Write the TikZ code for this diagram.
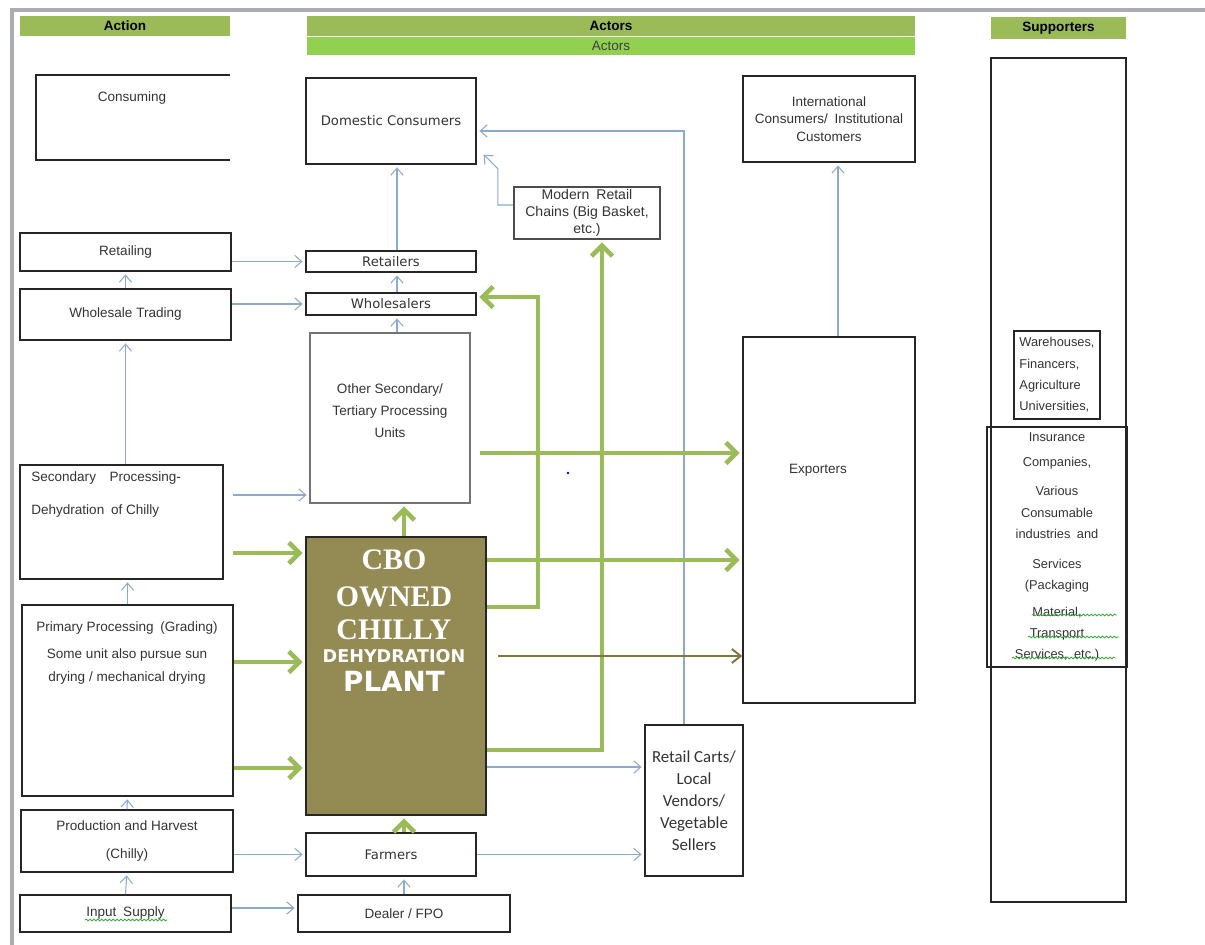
\documentclass[tikz,border=0pt]{standalone}
\usepackage{fontspec}
\setmainfont{Liberation Sans}
\newfontfamily\verdfont{DejaVu Sans}
\newfontfamily\calfont{Carlito}
\newfontfamily\serifplant{Liberation Serif}
\usetikzlibrary{arrows.meta,calc,decorations.pathmorphing}

\definecolor{hdrgreen}{RGB}{155,187,89}
\definecolor{hdrlime}{RGB}{146,208,80}
\definecolor{plantolive}{RGB}{148,138,84}
\definecolor{oliveline}{RGB}{128,118,62}
\definecolor{flowblue}{RGB}{140,170,205}
\definecolor{edgegray}{RGB}{170,174,180}
\definecolor{spellgreen}{RGB}{60,170,60}

\newcommand{\lbl}{\fontsize{7.7}{9.5}\selectfont}
\newcommand{\midlbl}{\verdfont\fontsize{7.5}{9.5}\selectfont}

\begin{document}
\begin{tikzpicture}[x=0.02cm,y=-0.02cm,
	wh/.style 2 args={minimum width=#1*0.02cm,minimum height=#2*0.02cm},
	box/.style={draw=black!85,line width=0.9pt,inner sep=0pt,align=center,text=black!80,font=\lbl},
	hdr/.style={fill=hdrgreen,inner sep=0pt,font=\lbl\bfseries},
	txt/.style={inner sep=0pt,align=center,text=black!80,font=\lbl},
	flow/.style={draw=flowblue,line width=0.6pt,shorten >=1.5pt,-{Straight Barb[length=4pt,width=7pt]}},
	gflow/.style={draw=hdrgreen,line width=2.6pt,shorten >=1.5pt,-{Straight Barb[length=6pt,width=12pt]}},
	oflow/.style={draw=oliveline,line width=1.1pt,-{Straight Barb[length=5pt,width=8pt]}},
	spell/.style={draw=spellgreen,line width=0.5pt,decorate,decoration={snake,amplitude=0.5pt,segment length=2.2pt}},
	bigword/.style={inner sep=0pt,text=white,font=\serifplant\bfseries\fontsize{17}{19}\selectfont}]
\useasboundingbox (0,0) rectangle (1205,945);

% page edge
\draw[edgegray,line width=2.5pt] (12,945) -- (12,10) -- (1205,10);

% headers
\node[hdr,wh={210}{20}] (hdaction) at (125,26) {Action};
\node[hdr,wh={608}{20}] (hdactors) at (611,26) {Actors};
\node[hdr,fill=hdrlime,font=\lbl,text=black!75,wh={608}{18}] (hdactors2) at (611,46) {Actors};
\node[hdr,wh={135}{22}] (hdsupport) at (1058.5,28) {Supporters};

% action column
\draw[draw=black!85,line width=0.9pt] (230,75) -- (36,75) -- (36,160) -- (230,160);
\node[txt] (consuming) at (132,98) {Consuming};
\node[box,wh={211}{38}] (retailing) at (125.5,252) {Retailing};
\node[box,wh={211}{51}] (wholesale) at (125.5,314.5) {Wholesale Trading};
\node[box,wh={203}{114}] (secproc) at (121.5,522) {};
\node[txt,align=left,anchor=north west,font=\fontsize{7.7}{18.8}\selectfont] (secproc-txt) at (31,471)
	{Secondary\quad Processing-\\Dehydration\enspace of Chilly};
\node[box,wh={211}{191}] (primary) at (127.5,700.5) {};
\node[txt,anchor=north,font=\fontsize{7.7}{13}\selectfont] (primary-txt) at (127,621)
	{Primary Processing\enspace (Grading)\\[2.8pt]Some unit also pursue sun\\drying / mechanical drying};
\node[box,font=\fontsize{7.7}{16}\selectfont,wh={212}{62}] (production) at (127,841) {Production and Harvest\\(Chilly)};
\node[box,wh={211}{37}] (input) at (125.5,913.5) {Input\enspace Supply};
\draw[spell] (85,920) -- (167,920);

% actors column
\node[box,font=\midlbl,wh={170}{86}] (domestic) at (391,121) {Domestic Consumers};
\node[box,font=\midlbl,wh={170}{21}] (retailers) at (391,261.5) {Retailers};
\node[box,font=\midlbl,wh={170}{22}] (wholesalers) at (391,304) {Wholesalers};
\node[box,draw=black!55,wh={160}{170}] (other) at (390,418) {};
\node[txt,font=\fontsize{7.7}{12.5}\selectfont] (other-txt) at (390,411) {Other Secondary/\\Tertiary Processing\\Units};
\node[box,fill=plantolive,wh={180}{278}] (cbo) at (396,676) {};
\foreach \word/\yy in {CBO/570,OWNED/607,CHILLY/640}
	\node[bigword,anchor=base] (cbo-\word) at (394,\yy) {\word};
\node[bigword,anchor=base,font=\verdfont\bfseries\fontsize{10}{12}\selectfont] (cbo-dehyd) at (394,663) {DEHYDRATION};
\node[bigword,anchor=base,font=\verdfont\bfseries\fontsize{15.8}{18}\selectfont] (cbo-plant) at (394,692) {PLANT};
\node[box,font=\midlbl,wh={170}{43}] (farmers) at (391,854.5) {Farmers};
\node[box,wh={212}{37}] (dealer) at (404,913.5) {Dealer / FPO};
\node[box,draw=black!70,font=\fontsize{8}{9.7}\selectfont,wh={146}{52}] (modern) at (587,213) {Modern\enspace Retail\\Chains (Big Basket,\\etc.)};
\node[box,font=\fontsize{7.7}{10}\selectfont,wh={172}{86}] (intl) at (829,119) {International\\Consumers/\enspace Institutional\\Customers};
\node[box,wh={172}{366}] (exporters) at (829,520) {};
\node[txt] (exporters-txt) at (818,470) {Exporters};
\node[box,font=\calfont\fontsize{9.6}{12.5}\selectfont,wh={98}{151}] (carts) at (694,800.5) {Retail Carts/\\Local\\Vendors/\\Vegetable\\Sellers};
\fill[blue] (568,473) circle (0.8pt);

% supporters column
\node[box,wh={135}{844}] (support) at (1058.5,480) {};
\node[box,align=left,font=\fontsize{7.3}{12.2}\selectfont,wh={86}{88}] (supp-a) at (1057,375) {Warehouses,\\Financers,\\Agriculture\\Universities,};
\node[box,font=\fontsize{7.3}{12}\selectfont,wh={140}{240}] (supp-b) at (1057,547)
	{Insurance\\[2.3pt]Companies,\\[4.5pt]Various\\Consumable\\industries\enspace and\\[5pt]Services\\(Packaging\\[3.4pt]Material,\\Transport\\Services,\enspace etc.)};
\draw[spell] (1032,615) -- (1117,615);
\draw[spell] (1028,637) -- (1119,637);
\draw[spell] (1012,658) -- (1115,658);

% helper rows and columns
\coordinate (rowsec) at (0,495);
\coordinate (rowinput) at (0,908);
\coordinate (rowcbo) at (0,767);
\coordinate (colmid) at (397,0);
\coordinate (colplant) at (404,0);
\coordinate (ga) at (0,553);
\coordinate (gb) at (0,662);
\coordinate (gc) at (0,768);
\coordinate (gd) at (0,453);
\coordinate (ge) at (0,560);
\coordinate (gf) at (0,607);
\coordinate (gg) at (0,750);
\coordinate (go) at (0,656);

% blue flows
\draw[flow] (input.north) -- (production.south);
\draw[flow] (production.north) -- (primary.south);
\draw[flow] (primary.north) -- (primary.north |- secproc.south);
\draw[flow] (wholesale.south |- secproc.north) -- (wholesale.south);
\draw[flow] (wholesale.north) -- (retailing.south);
\draw[flow] (retailing.east |- retailers.west) -- (retailers.west);
\draw[flow] (wholesale.east |- wholesalers.west) -- (wholesalers.west);
\draw[flow,shorten <=5.5pt] (secproc.east |- rowsec) -- (other.west |- rowsec);
\draw[flow] (production.east |- farmers.west) -- (farmers.west);
\draw[flow] (input.east |- rowinput) -- (dealer.west |- rowinput);
\draw[flow] (dealer.north) -- (dealer.north |- farmers.south);
\draw[flow] (farmers.east) -- (carts.west |- farmers.east);
\draw[flow] (cbo.east |- rowcbo) -- (carts.west |- rowcbo);
\draw[flow] (other.north -| colmid) -- (wholesalers.south -| colmid);
\draw[flow] (wholesalers.north -| colmid) -- (retailers.south -| colmid);
\draw[flow] (retailers.north -| colmid) -- (domestic.south -| colmid);
\draw[flow] ($(modern.west)+(0,-8)$) -| ($(domestic.south east)+(21,4)$) -- ($(domestic.south east)+(5,-12)$);
\draw[flow] ($(carts.north)+(-10,0)$) |- ($(domestic.east)+(0,10)$);
\draw[flow] ($(exporters.north)+(9,0)$) -- ($(intl.south)+(9,0)$);

% green flows
\draw[gflow,shorten <=5.5pt] (secproc.east |- ga) -- (cbo.west |- ga);
\draw[gflow] (primary.east |- gb) -- (cbo.west |- gb);
\draw[gflow] (primary.east |- gc) -- (cbo.west |- gc);
\draw[gflow] (farmers.north -| colplant) -- (cbo.south -| colplant);
\draw[gflow] (cbo.north -| colplant) -- (other.south -| colplant);
\draw[gflow,shorten <=5.5pt] (other.east |- gd) -- (exporters.west |- gd);
\draw[gflow] (cbo.east |- ge) -- (exporters.west |- ge);
\draw[gflow] (cbo.east |- gf) -| ($(wholesalers.east)+(61,-7)$) -- ($(wholesalers.east)+(0,-7)$);
\draw[gflow] (cbo.east |- gg) -| ($(modern.south)+(15,0)$);
\draw[oflow] ($(cbo.east |- go)+(11,0)$) -- (exporters.west |- go);
\end{tikzpicture}
\end{document}
